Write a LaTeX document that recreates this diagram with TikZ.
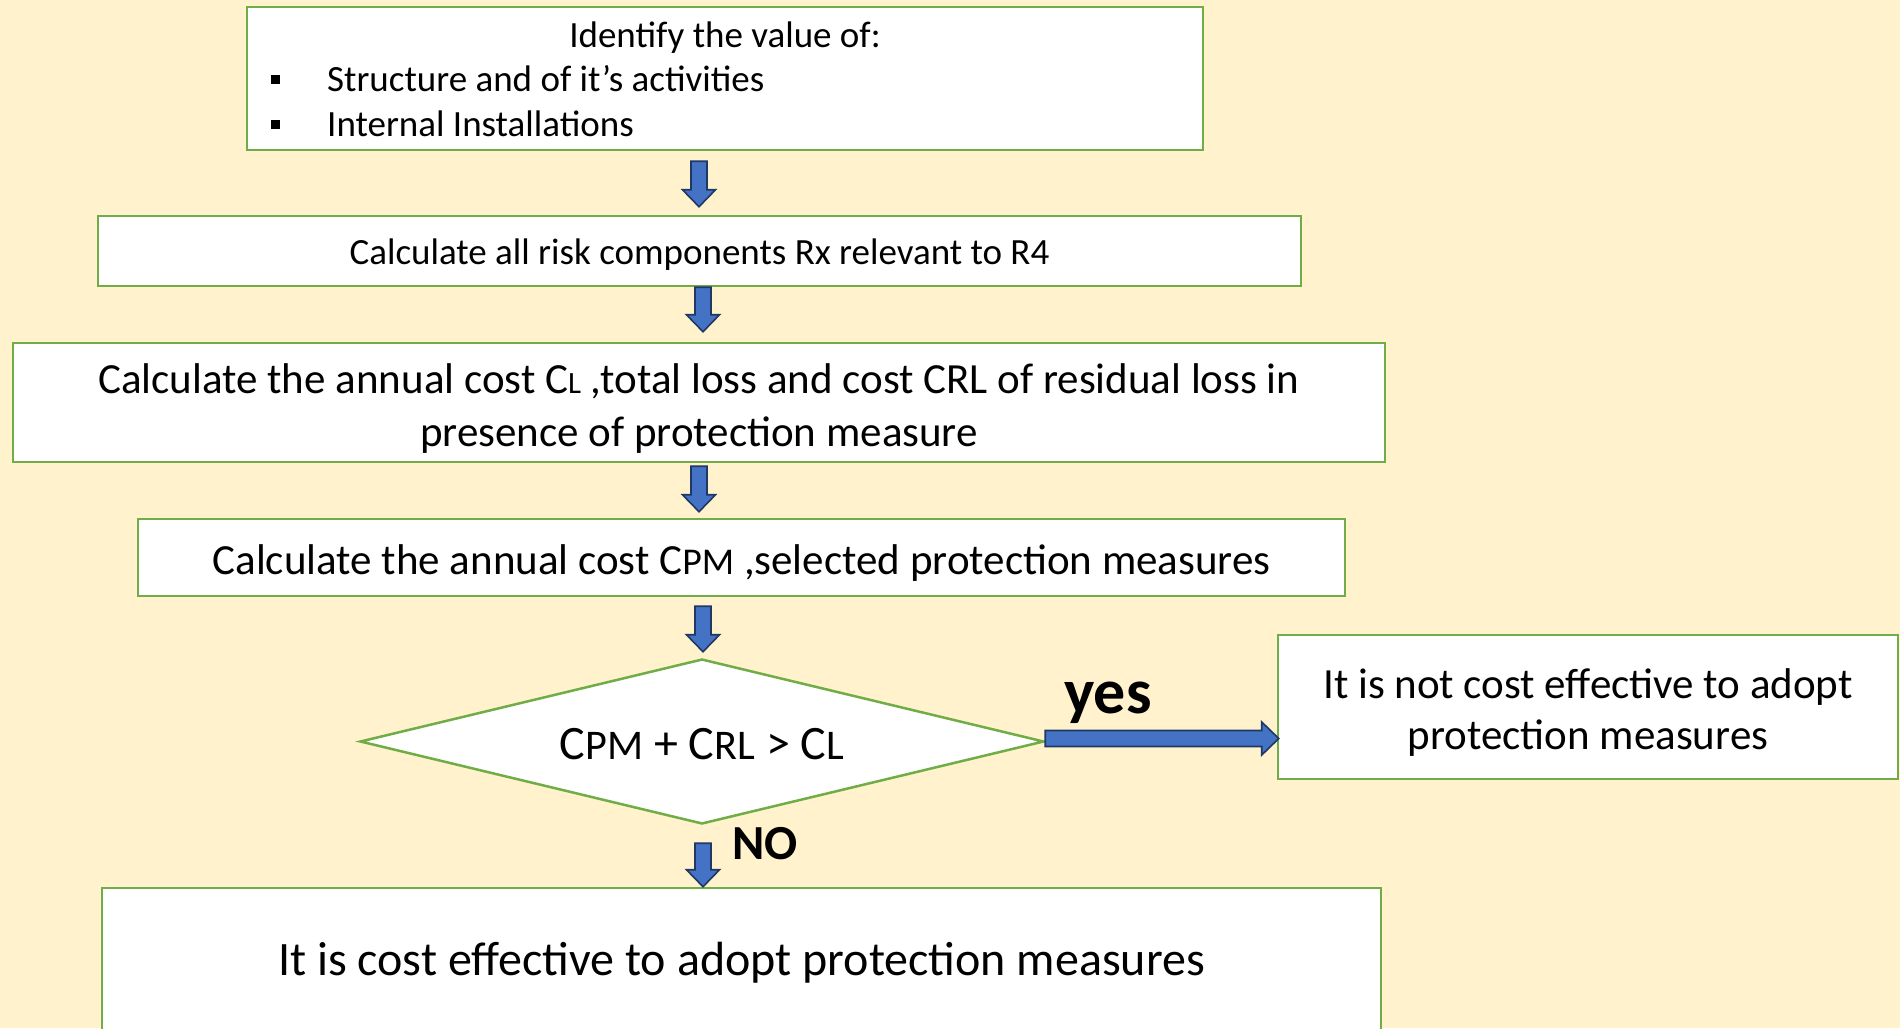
\documentclass[tikz,border=0pt]{standalone}
\usepackage{fontspec}
\setmainfont{Carlito}
\usetikzlibrary{calc,shapes.geometric}
\definecolor{paper}{HTML}{FFF2CC}
\definecolor{frame}{HTML}{70AD47}
\definecolor{arrowfill}{HTML}{4472C4}
\definecolor{arrowline}{HTML}{1F3864}
% smaller trailing letters of the cost symbols (C_L, C_PM, C_RL)
\newcommand\lowpart[1]{\scalebox{0.72}{#1}}
\newcommand\midpart[1]{\scalebox{0.88}{#1}}
% move a text line down without changing its box
\newcommand\lowered[2]{\raisebox{-#1pt}[\height][\depth]{#2}}
% broad block arrow from #1 to #2
\newcommand\blockarrow[2]{%
  \coordinate (ba-s) at #1;
  \coordinate (ba-e) at #2;
  \coordinate (ba-n) at ($(ba-e)!17pt!(ba-s)$);
  \filldraw[fatarrow]
    ($(ba-s)!8pt!90:(ba-e)$) -- ($(ba-n)!8pt!90:(ba-e)$) --
    ($(ba-n)!16.5pt!90:(ba-e)$) -- (ba-e) --
    ($(ba-n)!16.5pt!-90:(ba-e)$) -- ($(ba-n)!8pt!-90:(ba-e)$) --
    ($(ba-s)!8pt!-90:(ba-e)$) -- cycle;}
\tikzset{
  stepbox/.style={draw=frame, line width=2.5pt, fill=white, rectangle,
    inner sep=0pt, align=center},
  fatarrow/.style={fill=arrowfill, draw=arrowline, line width=1.6pt,
    line join=miter},
  decision/.style={draw=frame, line width=2.5pt, fill=white, diamond,
    aspect=4, inner sep=0pt},
  tag/.style={font=\fontsize{49}{53}\selectfont\bfseries, inner sep=0pt}
}
\begin{document}
\begin{tikzpicture}[x=1pt, y=-1pt]
  \clip (0,0) rectangle (1900,1028);
  \fill[paper] (0,0) rectangle (1900,1028);

  % first step with its bullet list
  \node[stepbox, minimum width=956, minimum height=143] (b1) at (725,78.5) {};
  \node[font=\fontsize{37}{44}\selectfont, inner sep=0pt] (b1t) at (725,38)
    {Identify the value of:};
  \node[font=\fontsize{37}{44}\selectfont, inner sep=0pt, anchor=west] (b1a)
    at (327,79) {Structure and of it’s activities};
  \node[font=\fontsize{37}{44}\selectfont, inner sep=0pt, anchor=west] (b1b)
    at (327,124) {Internal Installations};
  \fill ($(b1a.west)+(-56,-4.5)$) rectangle ++(9,9);
  \fill ($(b1b.west)+(-56,-4.5)$) rectangle ++(9,9);

  \node[stepbox, minimum width=1203, minimum height=70,
    font=\fontsize{37}{44}\selectfont] (b2) at (699.5,251)
    {\lowered{4}{Calculate all risk components Rx relevant to R4}};

  \node[stepbox, minimum width=1372, minimum height=119,
    font=\fontsize{43}{53}\selectfont] (b3) at (699,402.5)
    {\lowered{6}{Calculate the annual cost C\lowpart{L} ,total loss and cost CRL of residual loss in}\\
     \lowered{6}{presence of protection measure}};

  \node[stepbox, minimum width=1207, minimum height=77,
    font=\fontsize{43}{48}\selectfont] (b4) at (741.5,557.5)
    {\lowered{6}{Calculate the annual cost C\midpart{PM} ,selected protection measures}};

  \node[decision, minimum width=684, minimum height=165,
    font=\fontsize{48}{52}\selectfont] (dec) at (702,741.5)
    {\lowered{3}{C\midpart{PM} + C\midpart{RL} > C\midpart{L}}};

  \node[stepbox, minimum width=620, minimum height=144,
    font=\fontsize{43}{51}\selectfont] (no) at (1588,707)
    {\lowered{6}{It is not cost effective to adopt}\\
     \lowered{6}{protection measures}};

  \node[stepbox, minimum width=1279, minimum height=146,
    font=\fontsize{48}{53}\selectfont] (yes) at (741.5,961)
    {\lowered{2}{It is cost effective to adopt protection measures}};

  % connectors
  \blockarrow{($(b1.south -| 699,0)+(0,10)$)}{($(b2.north -| 699,0)+(0,-8)$)}
  \blockarrow{($(b2.south -| 703,0)+(0,0)$)}{($(b3.north -| 703,0)+(0,-10)$)}
  \blockarrow{($(b3.south -| 699,0)+(0,3)$)}{($(b4.north -| 699,0)+(0,-6)$)}
  \blockarrow{($(b4.south -| 703,0)+(0,9)$)}{($(dec.north -| 703,0)+(0,-6)$)}
  \blockarrow{($(dec.south -| 703,0)+(0,18)$)}{(yes.north -| 703,0)}
  \blockarrow{($(dec.east)+(0,-3)$)}{($(dec.east -| no.west)+(2,-3)$)}

  \node[tag, font=\fontsize{64}{68}\selectfont\bfseries] (ylab) at (1108,703) {yes};
  \node[tag] (nlab) at (765,844) {NO};
\end{tikzpicture}
\end{document}
